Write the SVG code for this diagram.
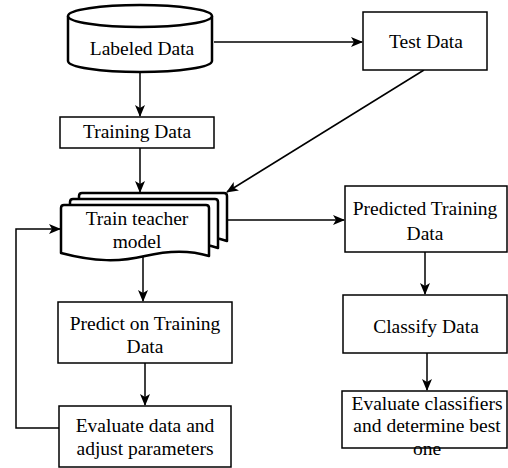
<svg xmlns="http://www.w3.org/2000/svg" width="508" height="468" viewBox="0 0 508 468">
<style>
  .box{fill:#fff;stroke:#000;stroke-width:1.5}
  .thick{fill:#fff;stroke:#000;stroke-width:2.5;stroke-linejoin:round}
  .c{fill:none;stroke:#000;stroke-width:1.5}
</style>
<defs>
  <marker id="ah" markerUnits="userSpaceOnUse" markerWidth="12" markerHeight="10" refX="11" refY="5" orient="auto">
    <path d="M0,0 L12,5 L0,10 L3,5 Z" fill="#000"/>
  </marker>
</defs>
<rect width="508" height="468" fill="#fff"/>
<g id="connectors">
  <path class="c" d="M140,73 L140,116" marker-end="url(#ah)"/>
  <path class="c" d="M214,42 L362,42" marker-end="url(#ah)"/>
  <path class="c" d="M424,70 L227,192" marker-end="url(#ah)"/>
  <path class="c" d="M140,148 L140,192" marker-end="url(#ah)"/>
  <path class="c" d="M227,220 L344,220" marker-end="url(#ah)"/>
  <path class="c" d="M143,256 L143,301" marker-end="url(#ah)"/>
  <path class="c" d="M145,363 L145,405" marker-end="url(#ah)"/>
  <path class="c" d="M59,428 L16,428 L16,229 L60,229" marker-end="url(#ah)"/>
  <path class="c" d="M425,252 L425,294" marker-end="url(#ah)"/>
  <path class="c" d="M427,353 L427,390" marker-end="url(#ah)"/>
</g>
<g id="labeled-data">
  <path class="thick" d="M68,16 L68,61 A72,11 0 0 0 212,61 L212,16"/>
  <ellipse class="thick" cx="140" cy="16" rx="72" ry="11"/>
  <text x="142" y="55" text-anchor="middle" style="font-family:'Liberation Serif';font-size:19.5px">Labeled Data</text>
</g>
<g id="test-data">
  <rect class="box" x="363" y="12" width="124" height="58"/>
  <text x="426" y="48" text-anchor="middle" style="font-family:'Liberation Serif';font-size:19.5px">Test Data</text>
</g>
<g id="training-data">
  <rect class="box" x="60" y="117" width="154" height="31"/>
  <text x="137" y="138" text-anchor="middle" style="font-family:'Liberation Serif';font-size:19.5px">Training Data</text>
</g>
<g id="train-teacher">
  <path class="thick" d="M79,196 Q79,193 82,193 L224,193 Q227,193 227,196 L227,241 C212,236 195,235 175,239 C150,245 125,246 79,240 Z"/>
  <path class="thick" d="M70,202 Q70,199 73,199 L215,199 Q218,199 218,202 L218,248 C203,243 186,242 166,246 C141,252 116,253 70,247 Z"/>
  <path class="thick" d="M61,208 Q61,205 64,205 L206,205 Q209,205 209,208 L209,256 C190,250 170,250 145,256 C120,262 95,262 61,253 Z"/>
  <text x="137" y="225" text-anchor="middle" style="font-family:'Liberation Serif';font-size:19.5px">Train teacher</text>
  <text x="137" y="248" text-anchor="middle" style="font-family:'Liberation Serif';font-size:19.5px">model</text>
</g>
<g id="predict-training">
  <rect class="box" x="58" y="302" width="174" height="61"/>
  <text x="145" y="330" text-anchor="middle" style="font-family:'Liberation Serif';font-size:19.5px">Predict on Training</text>
  <text x="145" y="353" text-anchor="middle" style="font-family:'Liberation Serif';font-size:19.5px">Data</text>
</g>
<g id="evaluate-data">
  <rect class="box" x="59" y="406" width="172" height="61"/>
  <text x="145" y="432" text-anchor="middle" style="font-family:'Liberation Serif';font-size:19.5px">Evaluate data and</text>
  <text x="145" y="455" text-anchor="middle" style="font-family:'Liberation Serif';font-size:19.5px">adjust parameters</text>
</g>
<g id="predicted-training-data">
  <rect class="box" x="345" y="186" width="162" height="66"/>
  <text x="425" y="215" text-anchor="middle" style="font-family:'Liberation Serif';font-size:19.5px">Predicted Training</text>
  <text x="425" y="240" text-anchor="middle" style="font-family:'Liberation Serif';font-size:19.5px">Data</text>
</g>
<g id="classify-data">
  <rect class="box" x="343" y="295" width="164" height="58"/>
  <text x="426" y="333" text-anchor="middle" style="font-family:'Liberation Serif';font-size:19.5px">Classify Data</text>
</g>
<g id="evaluate-classifiers">
  <rect class="box" x="342" y="391" width="165" height="57"/>
  <text x="427" y="410" text-anchor="middle" style="font-family:'Liberation Serif';font-size:19.5px">Evaluate classifiers</text>
  <text x="427" y="432" text-anchor="middle" style="font-family:'Liberation Serif';font-size:19.5px">and determine best</text>
  <text x="427" y="455" text-anchor="middle" style="font-family:'Liberation Serif';font-size:19.5px">one</text>
</g>
</svg>
